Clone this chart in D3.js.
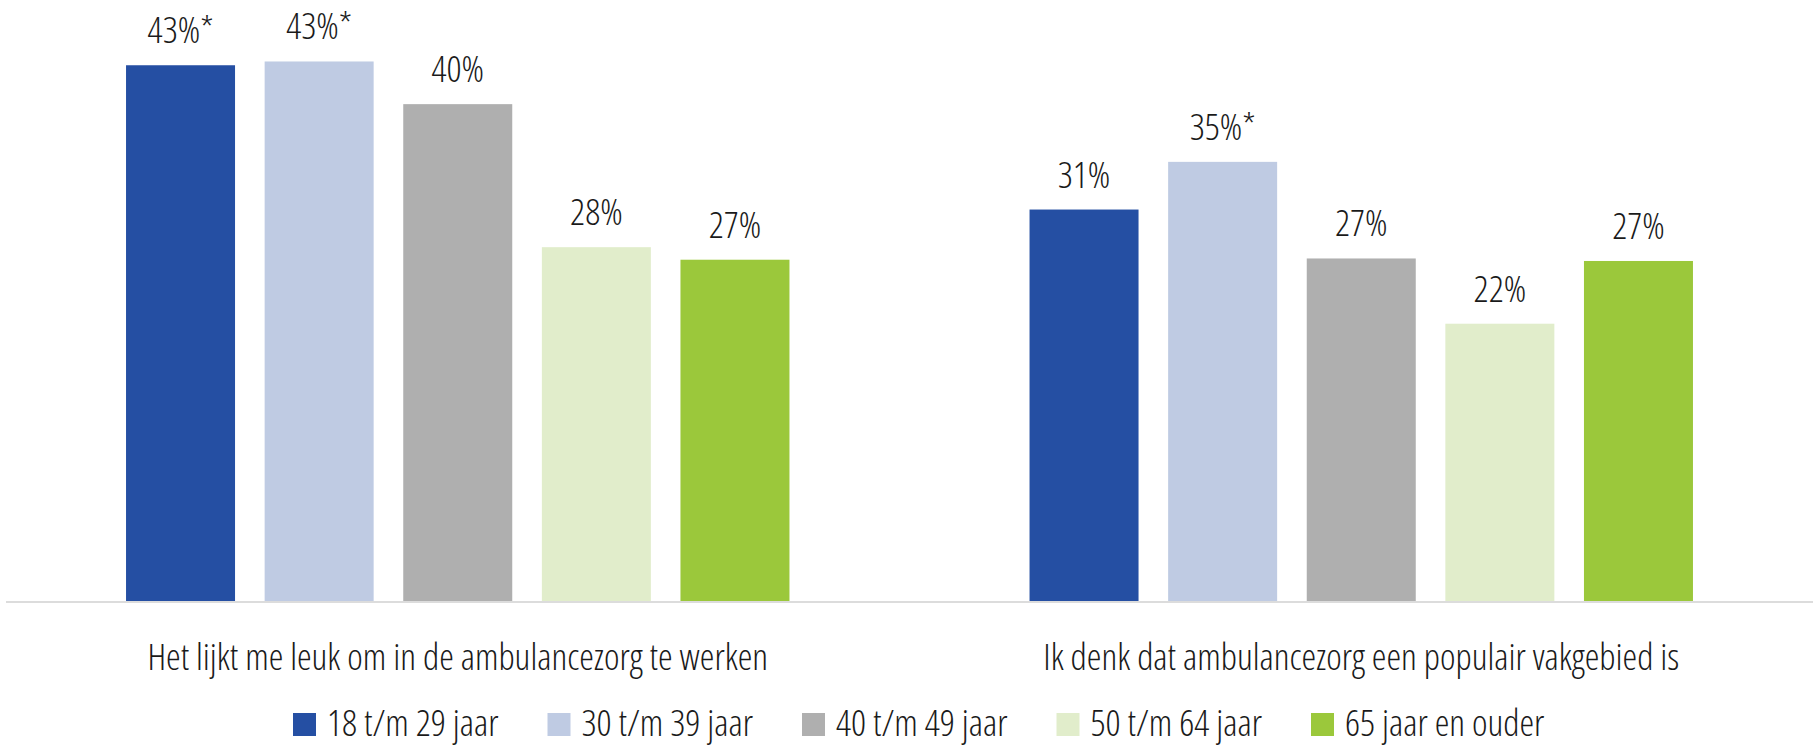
<!DOCTYPE html>
<html lang="nl">
<head>
<meta charset="UTF-8">
<title>Ambulancezorg naar leeftijd</title>
<style>
  body { margin: 0; background: #fff; }
  text {
    font-family: "Open Sans", "Liberation Sans Narrow", sans-serif;
    font-weight: 300;
    font-stretch: condensed;
    fill: #1a1a1a;
  }
  .baseline { stroke: #dcdcdc; stroke-width: 2; }
</style>
</head>
<body>
<div id="chart"></div>
<script src="https://cdnjs.cloudflare.com/ajax/libs/d3/7.8.5/d3.min.js"></script>
<script>
var categories = [
  "Het lijkt me leuk om in de ambulancezorg te werken",
  "Ik denk dat ambulancezorg een populair vakgebied is"
];
var series = ["18 t/m 29 jaar", "30 t/m 39 jaar", "40 t/m 49 jaar", "50 t/m 64 jaar", "65 jaar en ouder"];
var colors = ["#254fa3", "#bfcbe3", "#afafaf", "#e1edcb", "#9bc83b"];

// waarden per categorie, in volgorde van de series
var valuesWerken = [42.7, 43.0, 39.6, 28.2, 27.2];
var valuesPopulair = [31.2, 35.0, 27.3, 22.1, 27.1];
var labelsWerken = ["43%*", "43%*", "40%", "28%", "27%"];
var labelsPopulair = ["31%", "35%*", "27%", "22%", "27%"];

var values = [valuesWerken, valuesPopulair];
var labels = [labelsWerken, labelsPopulair];

var width = 1817, height = 748;
var baseY = 601;

var svg = d3.select("#chart").append("svg")
  .attr("width", width)
  .attr("height", height);

var x0 = d3.scaleBand().domain(categories).range([6, 1813]);
var x1 = d3.scaleBand().domain(series).range([0, x0.bandwidth()])
  .paddingInner(0.2136).paddingOuter(0.866);
var y = d3.scaleLinear().domain([0, 47.9]).range([baseY, 0]);
var color = d3.scaleOrdinal().domain(series).range(colors);

var groups = svg.selectAll(".group")
  .data(categories)
  .enter().append("g")
  .attr("class", "group")
  .attr("transform", function (d) { return "translate(" + x0(d) + ",0)"; });

groups.selectAll("rect")
  .data(function (d, i) {
    return series.map(function (s, j) {
      return { serie: s, value: values[i][j], label: labels[i][j] };
    });
  })
  .enter().append("rect")
  .attr("x", function (d) { return x1(d.serie); })
  .attr("y", function (d) { return y(d.value); })
  .attr("width", x1.bandwidth())
  .attr("height", function (d) { return baseY - y(d.value); })
  .style("fill", function (d) { return color(d.serie); });

groups.selectAll(".lbl")
  .data(function (d, i) {
    return series.map(function (s, j) {
      return { serie: s, value: values[i][j], label: labels[i][j] };
    });
  })
  .enter().append("text")
  .attr("class", "lbl")
  .attr("x", function (d) { return x1(d.serie) + x1.bandwidth() / 2; })
  .attr("y", function (d) { return y(d.value) - 22; })
  .attr("text-anchor", "middle")
  .style("font-size", "37px")
  .text(function (d) { return d.label; });

// basislijn
svg.append("line")
  .attr("class", "baseline")
  .attr("x1", 6).attr("x2", 1813)
  .attr("y1", baseY + 1).attr("y2", baseY + 1);

// categorie labels
svg.selectAll(".cat")
  .data(categories)
  .enter().append("text")
  .attr("class", "cat")
  .attr("x", function (d) { return x0(d) + x0.bandwidth() / 2; })
  .attr("y", 670)
  .attr("text-anchor", "middle")
  .style("font-size", "37px")
  .text(function (d) { return d; });

// legenda
var legendX = d3.scaleLinear().domain([0, series.length - 1]).range([293, 1311]);
var legend = svg.selectAll(".legend")
  .data(series)
  .enter().append("g")
  .attr("class", "legend")
  .attr("transform", function (d, i) { return "translate(" + legendX(i) + ",713)"; });

legend.append("rect")
  .attr("width", 23)
  .attr("height", 23)
  .style("fill", color);

legend.append("text")
  .attr("x", 34)
  .attr("y", 23)
  .style("font-size", "37px")
  .text(function (d) { return d; });
</script>
</body>
</html>
